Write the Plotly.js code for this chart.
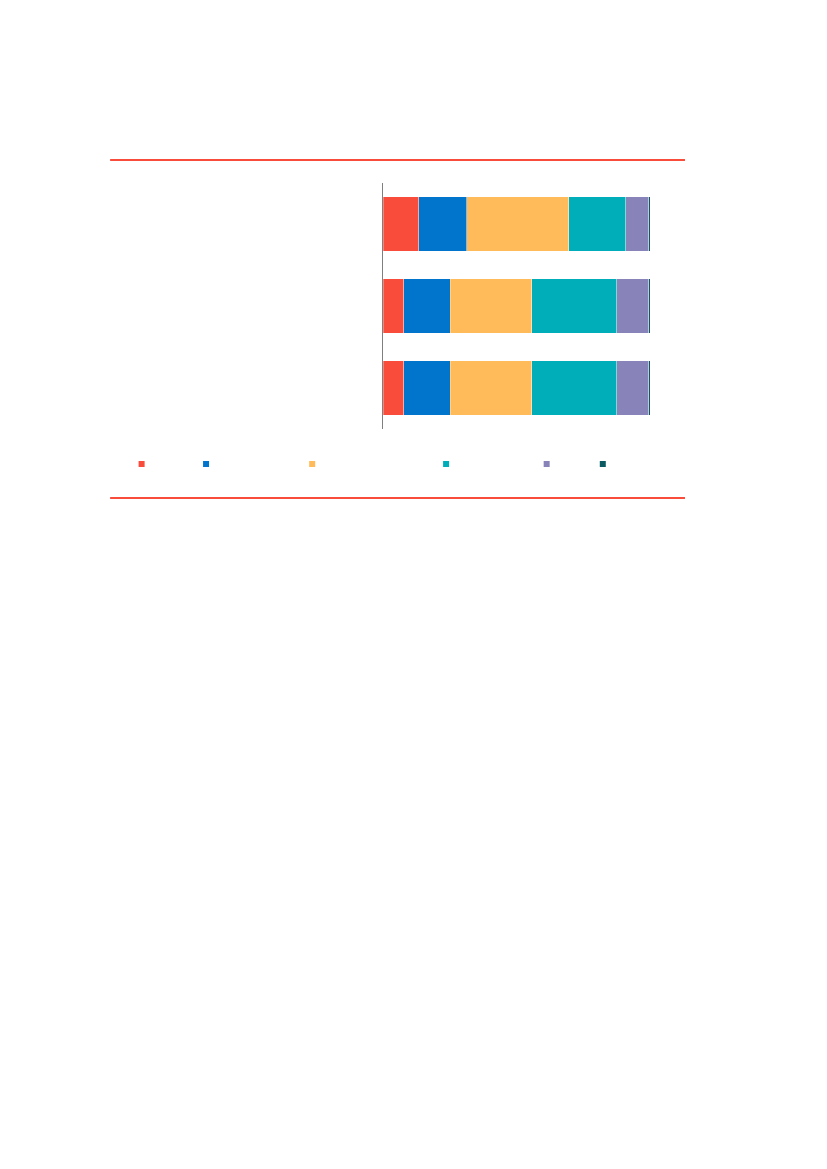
<!DOCTYPE html>
<html>
<head>
<meta charset="utf-8">
<script src="https://cdn.plot.ly/plotly-3.0.1.min.js"></script>
<style>
  body { margin: 0; background: #fff; }
  #chart { width: 827px; height: 1169px; }
</style>
</head>
<body>
<div id="chart"></div>
<script>
// three rows, top to bottom (no labels visible in the source)
var rows = ['r1', 'r2', 'r3'];

// shares in percent
var seg1 = [13.4, 7.7, 7.7];
var seg2 = [18.0, 17.4, 17.4];
var seg3 = [38.2, 30.7, 30.7];
var seg4 = [21.4, 31.7, 31.7];
var seg5 = [8.6, 12.1, 12.1];
var seg6 = [0.4, 0.4, 0.4];

var segs = [seg1, seg2, seg3, seg4, seg5, seg6];
var colors = ['#F94C3B', '#0075CB', '#FFBA5A', '#00AEB9', '#8884B9', '#0C5B63'];
// legend names are blank in the source; spacing only
var nb = '\u00a0';
var names = [nb.repeat(7), nb.repeat(22), nb.repeat(32), nb.repeat(20), nb.repeat(4), nb];

var traces = [];
segs.forEach(function(s, i) {
  traces.push({
    type: 'bar', orientation: 'h',
    y: rows, x: s,
    marker: {color: colors[i], line: {color: 'rgba(255,255,255,0.6)', width: 0.5}},
    showlegend: false, hoverinfo: 'skip'
  });
  // small square legend markers
  traces.push({
    type: 'scatter', mode: 'markers',
    x: [null], y: [null], name: names[i],
    marker: {symbol: 'square', size: 6, color: colors[i]}
  });
});

var layout = {
  width: 827, height: 1169,
  margin: {l: 383, r: 177, t: 183, b: 740},
  paper_bgcolor: '#fff', plot_bgcolor: '#fff',
  barmode: 'stack', bargap: 0.33,
  font: {family: 'Liberation Sans, Arial', size: 10, color: '#fff'},
  xaxis: {range: [0, 100], visible: false, fixedrange: true},
  yaxis: {autorange: 'reversed', showticklabels: false, ticks: '',
          showline: true, linecolor: '#7f7f7f', linewidth: 1,
          showgrid: false, zeroline: false},
  legend: {orientation: 'h', x: -0.979, xanchor: 'left', y: -0.142, yanchor: 'middle',
           traceorder: 'normal', itemwidth: 30, bgcolor: 'rgba(0,0,0,0)'},
  shapes: [
    {type: 'line', xref: 'paper', yref: 'paper', x0: -1.022, x1: 1.131, y0: 1.0935, y1: 1.0935,
     line: {color: '#F94C3B', width: 2}},
    {type: 'line', xref: 'paper', yref: 'paper', x0: -1.022, x1: 1.131, y0: -0.2805, y1: -0.2805,
     line: {color: '#F94C3B', width: 2}}
  ]
};

Plotly.newPlot('chart', traces, layout, {displayModeBar: false, staticPlot: true});
</script>
</body>
</html>
